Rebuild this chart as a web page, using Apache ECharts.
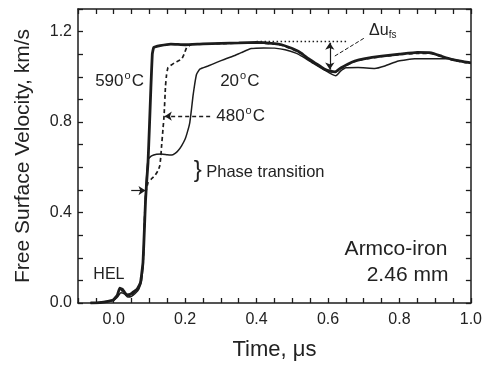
<!DOCTYPE html>
<html>
<head>
<meta charset="utf-8">
<script src="https://cdn.jsdelivr.net/npm/echarts@6/dist/echarts.min.js"></script>
<style>html,body{margin:0;padding:0;background:#fff}#c{width:485px;height:366px}</style>
</head>
<body>
<div id="c"></div>
<script>
// ---- data (time in microseconds, velocity in km/s) ----
const xLabelValues = [0.0, 0.2, 0.4, 0.6, 0.8, 1.0];
const yLabelValues = [0.0, 0.4, 0.8, 1.2];

const t590 = [[-0.065,0.0],[-0.04,0.002],[-0.02,0.006],[0.0,0.015],[0.01,0.035],[0.017,0.066],[0.025,0.06],[0.036,0.036],[0.046,0.038],[0.055,0.049],[0.065,0.06],[0.075,0.09],[0.082,0.18],[0.086,0.33],[0.089,0.45],[0.092,0.53],[0.096,0.62],[0.1,0.78],[0.104,0.95],[0.108,1.1],[0.112,1.13],[0.13,1.138],[0.16,1.145],[0.2,1.142],[0.25,1.146],[0.3,1.148],[0.35,1.15],[0.4,1.152],[0.45,1.147],[0.47,1.142],[0.5,1.125],[0.525,1.105],[0.545,1.08],[0.563,1.062],[0.58,1.045],[0.591,1.034],[0.605,1.026],[0.62,1.022],[0.637,1.04],[0.655,1.056],[0.675,1.07],[0.7,1.08],[0.75,1.092],[0.8,1.1],[0.85,1.108],[0.889,1.106],[0.92,1.09],[0.95,1.076],[0.982,1.066],[1.0,1.062]];

const t480 = [[-0.065,0.0],[-0.04,0.002],[-0.02,0.006],[0.0,0.014],[0.01,0.03],[0.02,0.055],[0.03,0.05],[0.04,0.032],[0.05,0.036],[0.06,0.05],[0.07,0.068],[0.078,0.11],[0.083,0.2],[0.087,0.4],[0.09,0.49],[0.0965,0.534],[0.105,0.548],[0.115,0.563],[0.124,0.585],[0.129,0.607],[0.132,0.65],[0.134,0.695],[0.138,0.77],[0.141,0.828],[0.145,0.96],[0.148,1.01],[0.152,1.041],[0.171,1.063],[0.19,1.078],[0.197,1.1],[0.204,1.129],[0.218,1.144],[0.25,1.145],[0.3,1.147],[0.35,1.149],[0.4,1.15],[0.45,1.145],[0.47,1.14],[0.5,1.122],[0.525,1.102],[0.545,1.078],[0.563,1.06],[0.58,1.043],[0.591,1.032],[0.605,1.024],[0.62,1.02],[0.637,1.038],[0.655,1.054],[0.675,1.068],[0.7,1.078],[0.75,1.09],[0.8,1.098],[0.85,1.104],[0.889,1.104],[0.92,1.088],[0.95,1.074],[0.982,1.064],[1.0,1.06]];

const t20 = [[-0.065,0.0],[-0.04,0.002],[-0.02,0.005],[0.0,0.012],[0.01,0.025],[0.02,0.045],[0.03,0.04],[0.04,0.026],[0.05,0.03],[0.06,0.042],[0.07,0.06],[0.078,0.1],[0.083,0.195],[0.087,0.4],[0.09,0.5],[0.093,0.58],[0.0965,0.636],[0.106,0.651],[0.12,0.658],[0.134,0.659],[0.15,0.655],[0.162,0.654],[0.172,0.662],[0.18,0.673],[0.19,0.695],[0.2,0.725],[0.207,0.76],[0.213,0.798],[0.218,0.86],[0.222,0.916],[0.227,0.97],[0.232,1.011],[0.241,1.034],[0.264,1.048],[0.29,1.065],[0.311,1.078],[0.335,1.092],[0.357,1.107],[0.385,1.125],[0.42,1.128],[0.45,1.127],[0.48,1.12],[0.51,1.105],[0.53,1.088],[0.56,1.058],[0.59,1.03],[0.61,1.012],[0.622,1.005],[0.635,1.025],[0.65,1.04],[0.684,1.041],[0.731,1.037],[0.759,1.048],[0.797,1.07],[0.843,1.08],[0.936,1.08],[0.992,1.063],[1.0,1.062]];

// ---- chart ----
const INK = '#1c1c1c';
const FONT = 'Liberation Sans, Arial, sans-serif';
const chart = echarts.init(document.getElementById('c'), null, {renderer: 'canvas'});

function labelFmt(list) {
  return function (v) {
    for (const L of list) { if (Math.abs(v - L) < 1e-6) return L.toFixed(1); }
    return '';
  };
}
function xAx(pos, labels) {
  return {
    type: 'value', position: pos, min: -0.1, max: 1.0, interval: 0.05,
    axisLine: {show: true, onZero: false, lineStyle: {color: INK, width: 1.5}},
    axisTick: {show: true, inside: true, length: 5, lineStyle: {color: INK, width: 1.3}},
    axisLabel: labels ? {show: true, showMinLabel: true, showMaxLabel: true, hideOverlap: false, formatter: labelFmt(xLabelValues), fontSize: 16, color: '#222', margin: 9, fontFamily: FONT} : {show: false},
    splitLine: {show: false},
    name: labels ? 'Time, μs' : '', nameLocation: 'middle', nameGap: 36,
    nameTextStyle: {fontSize: 22, color: '#222', fontFamily: FONT}
  };
}
function yAx(pos, labels) {
  return {
    type: 'value', position: pos, min: 0, max: 1.3, interval: 0.1,
    axisLine: {show: true, onZero: false, lineStyle: {color: INK, width: 1.5}},
    axisTick: {show: true, inside: true, length: 5, lineStyle: {color: INK, width: 1.3}},
    axisLabel: labels ? {show: true, showMinLabel: true, hideOverlap: false, formatter: labelFmt(yLabelValues), fontSize: 16, color: '#222', margin: 6, fontFamily: FONT} : {show: false},
    splitLine: {show: false},
    name: labels ? 'Free Surface Velocity, km/s' : '', nameLocation: 'middle', nameGap: 44,
    nameTextStyle: {fontSize: 21, color: '#222', fontFamily: FONT}
  };
}

const annoLine = {color: INK, width: 1.2, type: 'solid'};
chart.setOption({
  animation: false,
  backgroundColor: '#fff',
  grid: {left: 78, right: 12, top: 9, bottom: 62},
  xAxis: [xAx('bottom', true), xAx('top', false)],
  yAxis: [yAx('left', true), yAx('right', false)],
  series: [
    {name: '20°C', type: 'line', data: t20, showSymbol: false, smooth: 0.15, lineStyle: {color: INK, width: 1.5}},
    {name: '480°C', type: 'line', data: t480, showSymbol: false, smooth: 0.1, lineStyle: {color: INK, width: 1.7, type: [4, 3]}},
    {name: '590°C', type: 'line', data: t590, showSymbol: false, smooth: 0.1, lineStyle: {color: INK, width: 2.8}},
    {name: 'annotations', type: 'line', data: [], silent: true,
      markLine: {silent: true, animation: false, label: {show: false}, symbolSize: [7, 7],
        data: [
          [{coord: [0.40, 1.156], symbol: 'none', lineStyle: {color: INK, width: 1.3, type: [1.5, 2.5]}}, {coord: [0.656, 1.156], symbol: 'none'}],
          [{coord: [0.605, 1.151], symbol: 'arrow', lineStyle: annoLine}, {coord: [0.605, 1.032], symbol: 'arrow'}],
          [{coord: [0.619, 1.092], symbol: 'none', lineStyle: {color: INK, width: 1}}, {coord: [0.703, 1.173], symbol: 'none'}],
          [{coord: [0.27, 0.826], symbol: 'none', lineStyle: {color: INK, width: 1.3, type: [4, 3]}}, {coord: [0.143, 0.826], symbol: 'arrow'}],
          [{coord: [0.049, 0.497], symbol: 'none', lineStyle: annoLine}, {coord: [0.089, 0.497], symbol: 'arrow'}]
        ]}
    }
  ]
});

function P(x, y) { return chart.convertToPixel({gridIndex: 0}, [x, y]); }
function txt(x, y, text, size, align, rich) {
  const p = P(x, y);
  return {type: 'text', x: p[0], y: p[1], silent: true,
    style: {text: text, fill: '#222', fontSize: size, fontFamily: FONT, align: align || 'left', verticalAlign: 'middle', rich: rich}};
}
const degRich = {
  n: {fontSize: 17, fontFamily: FONT, fill: '#222', lineHeight: 20, verticalAlign: 'bottom'},
  s: {fontSize: 11, fontFamily: FONT, fill: '#222', lineHeight: 11, verticalAlign: 'top', padding: [0, 1, 0, 1]}
};
chart.setOption({
  graphic: [
    txt(-0.052, 0.985, '{n|590}{s|o}{n|C}', 17, 'left', degRich),
    txt(0.298, 0.985, '{n|20}{s|o}{n|C}', 17, 'left', degRich),
    txt(0.287, 0.831, '{n|480}{s|o}{n|C}', 17, 'left', degRich),
    txt(0.224, 0.586, '}', 24, 'left'),
    txt(0.259, 0.579, 'Phase transition', 16.5, 'left'),
    txt(-0.057, 0.125, 'HEL', 16, 'left'),
    txt(0.934, 0.24, 'Armco-iron', 21, 'right'),
    txt(0.937, 0.124, '2.46 mm', 21, 'right'),
    txt(0.715, 1.2, '{d|Δu}{b|fs}', 16, 'left', {
      d: {fontSize: 16, fontFamily: FONT, fill: '#222', lineHeight: 18, verticalAlign: 'top'},
      b: {fontSize: 10, fontFamily: FONT, fill: '#222', verticalAlign: 'bottom', padding: [8, 0, 0, 0]}})
  ]
});
</script>
</body>
</html>
